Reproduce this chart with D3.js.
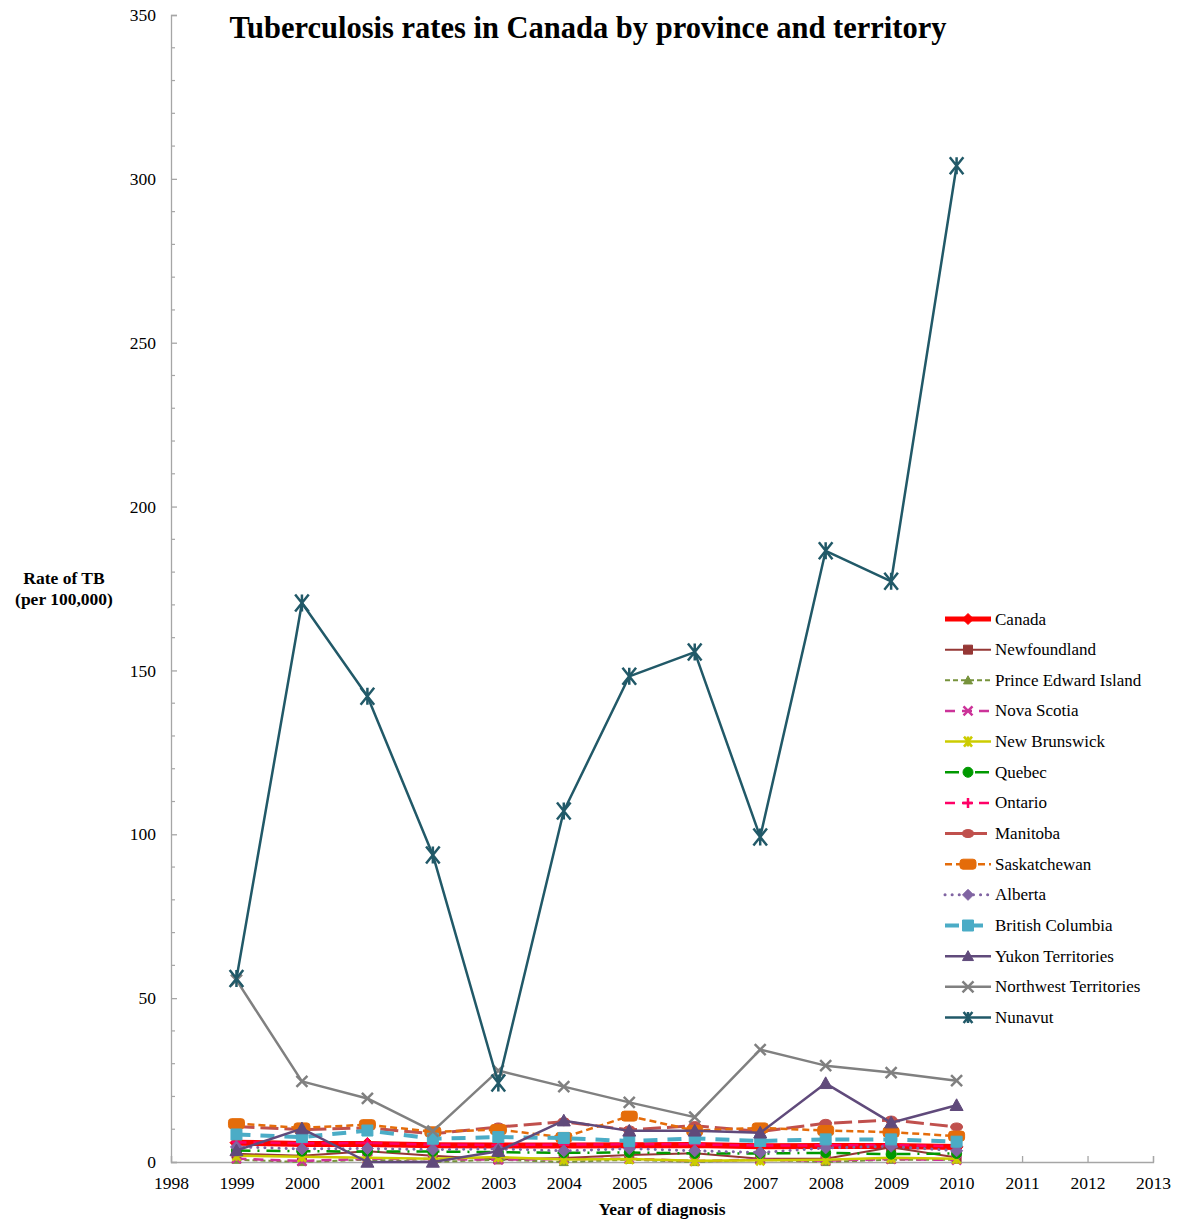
<!DOCTYPE html>
<html>
<head>
<meta charset="utf-8">
<script src="https://cdnjs.cloudflare.com/ajax/libs/d3/7.8.5/d3.min.js"></script>
<style>
  html, body { margin: 0; padding: 0; background: #fff; }
  svg { display: block; }
  text { font-family: "Liberation Serif", "DejaVu Serif", serif; fill: #000; }
</style>
</head>
<body>
<svg id="chart" width="1179" height="1222"></svg>
<script>
// Years of diagnosis
const years = [1999, 2000, 2001, 2002, 2003, 2004, 2005, 2006, 2007, 2008, 2009, 2010];

// TB rates per 100,000 population
const canada       = [5.9, 5.5, 5.5, 5.1, 5.0, 5.0, 5.1, 5.2, 4.8, 4.9, 4.9, 4.6];
const newfoundland = [2.5, 1.9, 3.3, 1.9, 0.8, 1.2, 2.1, 2.7, 1.0, 1.0, 4.5, 1.4];
const pei          = [0.7, 0.0, 0.7, 0.0, 0.7, 0.0, 0.7, 0.0, 0.7, 0.0, 0.7, 0.7];
const novaScotia   = [1.0, 0.3, 1.0, 0.9, 0.7, 0.9, 1.0, 0.3, 0.7, 0.4, 0.9, 0.6];
const newBrunswick = [1.9, 1.6, 1.3, 1.0, 1.5, 0.8, 0.9, 0.4, 0.5, 0.7, 1.3, 1.0];
const quebec       = [3.5, 3.3, 3.2, 3.2, 3.0, 2.8, 2.9, 2.6, 2.6, 2.8, 2.4, 2.6];
const ontario      = [6.0, 5.7, 5.8, 5.3, 5.2, 5.3, 5.4, 5.4, 5.0, 5.1, 5.2, 4.8];
const manitoba     = [10.8, 9.9, 10.4, 8.6, 10.7, 12.3, 9.8, 11.1, 9.3, 11.8, 12.8, 10.7];
const saskatchewan = [11.7, 10.4, 11.4, 9.2, 9.9, 7.5, 14.0, 9.6, 10.4, 9.6, 9.1, 7.9];
const alberta      = [4.6, 4.0, 4.1, 3.8, 4.0, 3.4, 4.1, 3.4, 2.9, 4.3, 4.8, 3.4];
const bc           = [8.4, 7.6, 9.6, 7.1, 7.6, 7.3, 6.4, 7.2, 6.4, 6.9, 6.9, 6.2];
const yukon        = [3.5, 10.2, 0.0, 0.0, 3.3, 12.6, 9.5, 9.5, 8.9, 24.0, 12.0, 17.3];
const nwt          = [55.5, 24.6, 19.4, 9.4, 27.9, 23.0, 18.2, 13.7, 34.3, 29.4, 27.3, 24.8];
const nunavut      = [56.0, 170.6, 142.1, 93.7, 24.1, 107.1, 148.2, 155.6, 99.2, 186.5, 177.2, 304.0];

// Axis ticks
const yTicks = [0, 50, 100, 150, 200, 250, 300, 350];
const xTicks = [1998, 1999, 2000, 2001, 2002, 2003, 2004, 2005, 2006, 2007, 2008, 2009, 2010, 2011, 2012, 2013];

const series = [
  { name: "Canada",                values: canada,       color: "#FF0000", width: 6,   dash: null,          marker: "diamond",  msize: 13 },
  { name: "Newfoundland",          values: newfoundland, color: "#953735", width: 2,   dash: null,          marker: "square",   msize: 9 },
  { name: "Prince Edward Island",  values: pei,          color: "#77933C", width: 2,   dash: "5,3",         marker: "triangle", msize: 9 },
  { name: "Nova Scotia",           values: novaScotia,   color: "#CC3399", width: 2.5, dash: "10,7",        marker: "x",        msize: 9 },
  { name: "New Brunswick",         values: newBrunswick, color: "#CCCC00", width: 2.5, dash: null,          marker: "asterisk", msize: 10 },
  { name: "Quebec",                values: quebec,       color: "#009900", width: 2.5, dash: "14,7,2,7",    marker: "circle",   msize: 10 },
  { name: "Ontario",               values: ontario,      color: "#FF0066", width: 2.5, dash: "10,7",        marker: "plus",     msize: 10 },
  { name: "Manitoba",              values: manitoba,     color: "#C0504D", width: 3,   dash: "18,6",        marker: "oval",     msize: 10 },
  { name: "Saskatchewan",          values: saskatchewan, color: "#E46C0A", width: 2.5, dash: "7,4",         marker: "pill",     msize: 10 },
  { name: "Alberta",               values: alberta,      color: "#8064A2", width: 3,   dash: "0.1,7",       marker: "diamond",  msize: 12, cap: "round" },
  { name: "British Columbia",      values: bc,           color: "#4BACC6", width: 4,   dash: "14,10",       marker: "square",   msize: 11 },
  { name: "Yukon Territories",     values: yukon,        color: "#604A7B", width: 2.5, dash: null,          marker: "triangle", msize: 13 },
  { name: "Northwest Territories", values: nwt,          color: "#808080", width: 2.5, dash: null,          marker: "x",        msize: 11 },
  { name: "Nunavut",               values: nunavut,      color: "#215968", width: 2.5, dash: null,          marker: "asterisk", msize: 17 }
];

const svg = d3.select("#chart");
const plot = { left: 171, right: 1153, top: 15, bottom: 1162 };

const x = d3.scaleLinear().domain([1998, 2013]).range([plot.left, plot.right]);
const y = d3.scaleLinear().domain([0, 350]).range([plot.bottom, plot.top]);

const axisColor = "#A6A6A6";

// Y axis: ticks drawn inward, minor tick every 10
const yAxis = d3.axisLeft(y).tickValues(yTicks).tickSize(-6).tickPadding(15).tickFormat(d3.format("d"));
const gy = svg.append("g").attr("transform", `translate(${plot.left},0)`).call(yAxis);
gy.select(".domain").attr("stroke", axisColor).attr("stroke-width", 1.3);
gy.selectAll(".tick line").attr("stroke", axisColor).attr("stroke-width", 1.3);
gy.selectAll(".tick text").attr("font-size", 17.5).attr("font-family", "Liberation Serif, serif");
const minorY = d3.range(0, 351, 10).filter(v => v % 50 !== 0);
svg.append("g").selectAll("line").data(minorY).join("line")
  .attr("x1", plot.left).attr("x2", plot.left + 4)
  .attr("y1", d => y(d)).attr("y2", d => y(d))
  .attr("stroke", axisColor).attr("stroke-width", 1.2);

// X axis: tick marks inward
const xAxis = d3.axisBottom(x).tickValues(xTicks).tickSize(-6).tickPadding(15).tickFormat(d3.format("d"));
const gx = svg.append("g").attr("transform", `translate(0,${plot.bottom})`).call(xAxis);
gx.select(".domain").attr("stroke", axisColor).attr("stroke-width", 1.3);
gx.selectAll(".tick line").attr("stroke", axisColor).attr("stroke-width", 1.3);
gx.selectAll(".tick text").attr("font-size", 17.5).attr("font-family", "Liberation Serif, serif");

// Marker shapes
function markerPath(type, s) {
  const h = s / 2;
  switch (type) {
    case "diamond":  return `M0,${-h}L${h},0L0,${h}L${-h},0Z`;
    case "square":   return `M${-h},${-h}H${h}V${h}H${-h}Z`;
    case "triangle": return `M0,${-h}L${h},${h * 0.8}L${-h},${h * 0.8}Z`;
    case "circle":   return d3.symbol(d3.symbolCircle, Math.PI * h * h)();
    case "oval":     return `M${-h * 1.2},0A${h * 1.2},${h * 0.8} 0 1,0 ${h * 1.2},0A${h * 1.2},${h * 0.8} 0 1,0 ${-h * 1.2},0Z`;
    case "pill": {
      const w = h * 1.6, r = h * 0.6;
      return `M${-w + r},${-h}H${w - r}Q${w},${-h} ${w},${-h + r}V${h - r}Q${w},${h} ${w - r},${h}H${-w + r}Q${-w},${h} ${-w},${h - r}V${-h + r}Q${-w},${-h} ${-w + r},${-h}Z`;
    }
    case "x":        return `M${-h},${-h}L${h},${h}M${h},${-h}L${-h},${h}`;
    case "plus":     return `M0,${-h}V${h}M${-h},0H${h}`;
    case "asterisk": return `M${-h * 0.8},${-h}L${h * 0.8},${h}M${h * 0.8},${-h}L${-h * 0.8},${h}M0,${-h}V${h}`;
  }
}
const openMarkers = new Set(["x", "plus", "asterisk"]);

function drawMarker(g, s, cx, cy, size) {
  const p = g.append("path")
    .attr("d", markerPath(s.marker, size))
    .attr("transform", `translate(${cx},${cy})`);
  if (openMarkers.has(s.marker)) {
    p.attr("fill", "none").attr("stroke", s.color).attr("stroke-width", 2.5);
  } else {
    p.attr("fill", s.color).attr("stroke", s.color).attr("stroke-width", 1);
  }
}

const line = d3.line().x((d, i) => x(years[i])).y(d => y(d));

// Series lines and markers
const gs = svg.append("g");
series.forEach(s => {
  const g = gs.append("g");
  g.append("path")
    .attr("d", line(s.values))
    .attr("fill", "none")
    .attr("stroke", s.color)
    .attr("stroke-width", s.width)
    .attr("stroke-linejoin", "round")
    .attr("stroke-linecap", s.cap || "butt")
    .attr("stroke-dasharray", s.dash);
  s.values.forEach((v, i) => drawMarker(g, s, x(years[i]), y(v), s.msize));
});

// Legend
const legend = svg.append("g");
series.forEach((s, i) => {
  const ly = 619 + i * 30.65;
  const g = legend.append("g");
  g.append("line")
    .attr("x1", 945).attr("x2", 991).attr("y1", ly).attr("y2", ly)
    .attr("stroke", s.color)
    .attr("stroke-width", Math.min(s.width, 5))
    .attr("stroke-linecap", s.cap || "butt")
    .attr("stroke-dasharray", s.dash);
  drawMarker(g, s, 968, ly, Math.min(s.msize, 11));
  g.append("text")
    .attr("x", 995).attr("y", ly + 5.5)
    .attr("font-size", 17)
    .text(s.name);
});

// Title
svg.append("text")
  .attr("x", 588).attr("y", 38)
  .attr("text-anchor", "middle")
  .attr("font-size", 30.5)
  .attr("font-weight", "bold")
  .text("Tuberculosis rates in Canada by province and territory");

// Y axis title
const yt = svg.append("text")
  .attr("x", 64).attr("y", 584)
  .attr("text-anchor", "middle")
  .attr("font-size", 17.5)
  .attr("font-weight", "bold");
yt.append("tspan").attr("x", 64).attr("dy", 0).text("Rate of TB");
yt.append("tspan").attr("x", 64).attr("dy", 21).text("(per 100,000)");

// X axis title
svg.append("text")
  .attr("x", 662).attr("y", 1215)
  .attr("text-anchor", "middle")
  .attr("font-size", 17.5)
  .attr("font-weight", "bold")
  .text("Year of diagnosis");
</script>
</body>
</html>
